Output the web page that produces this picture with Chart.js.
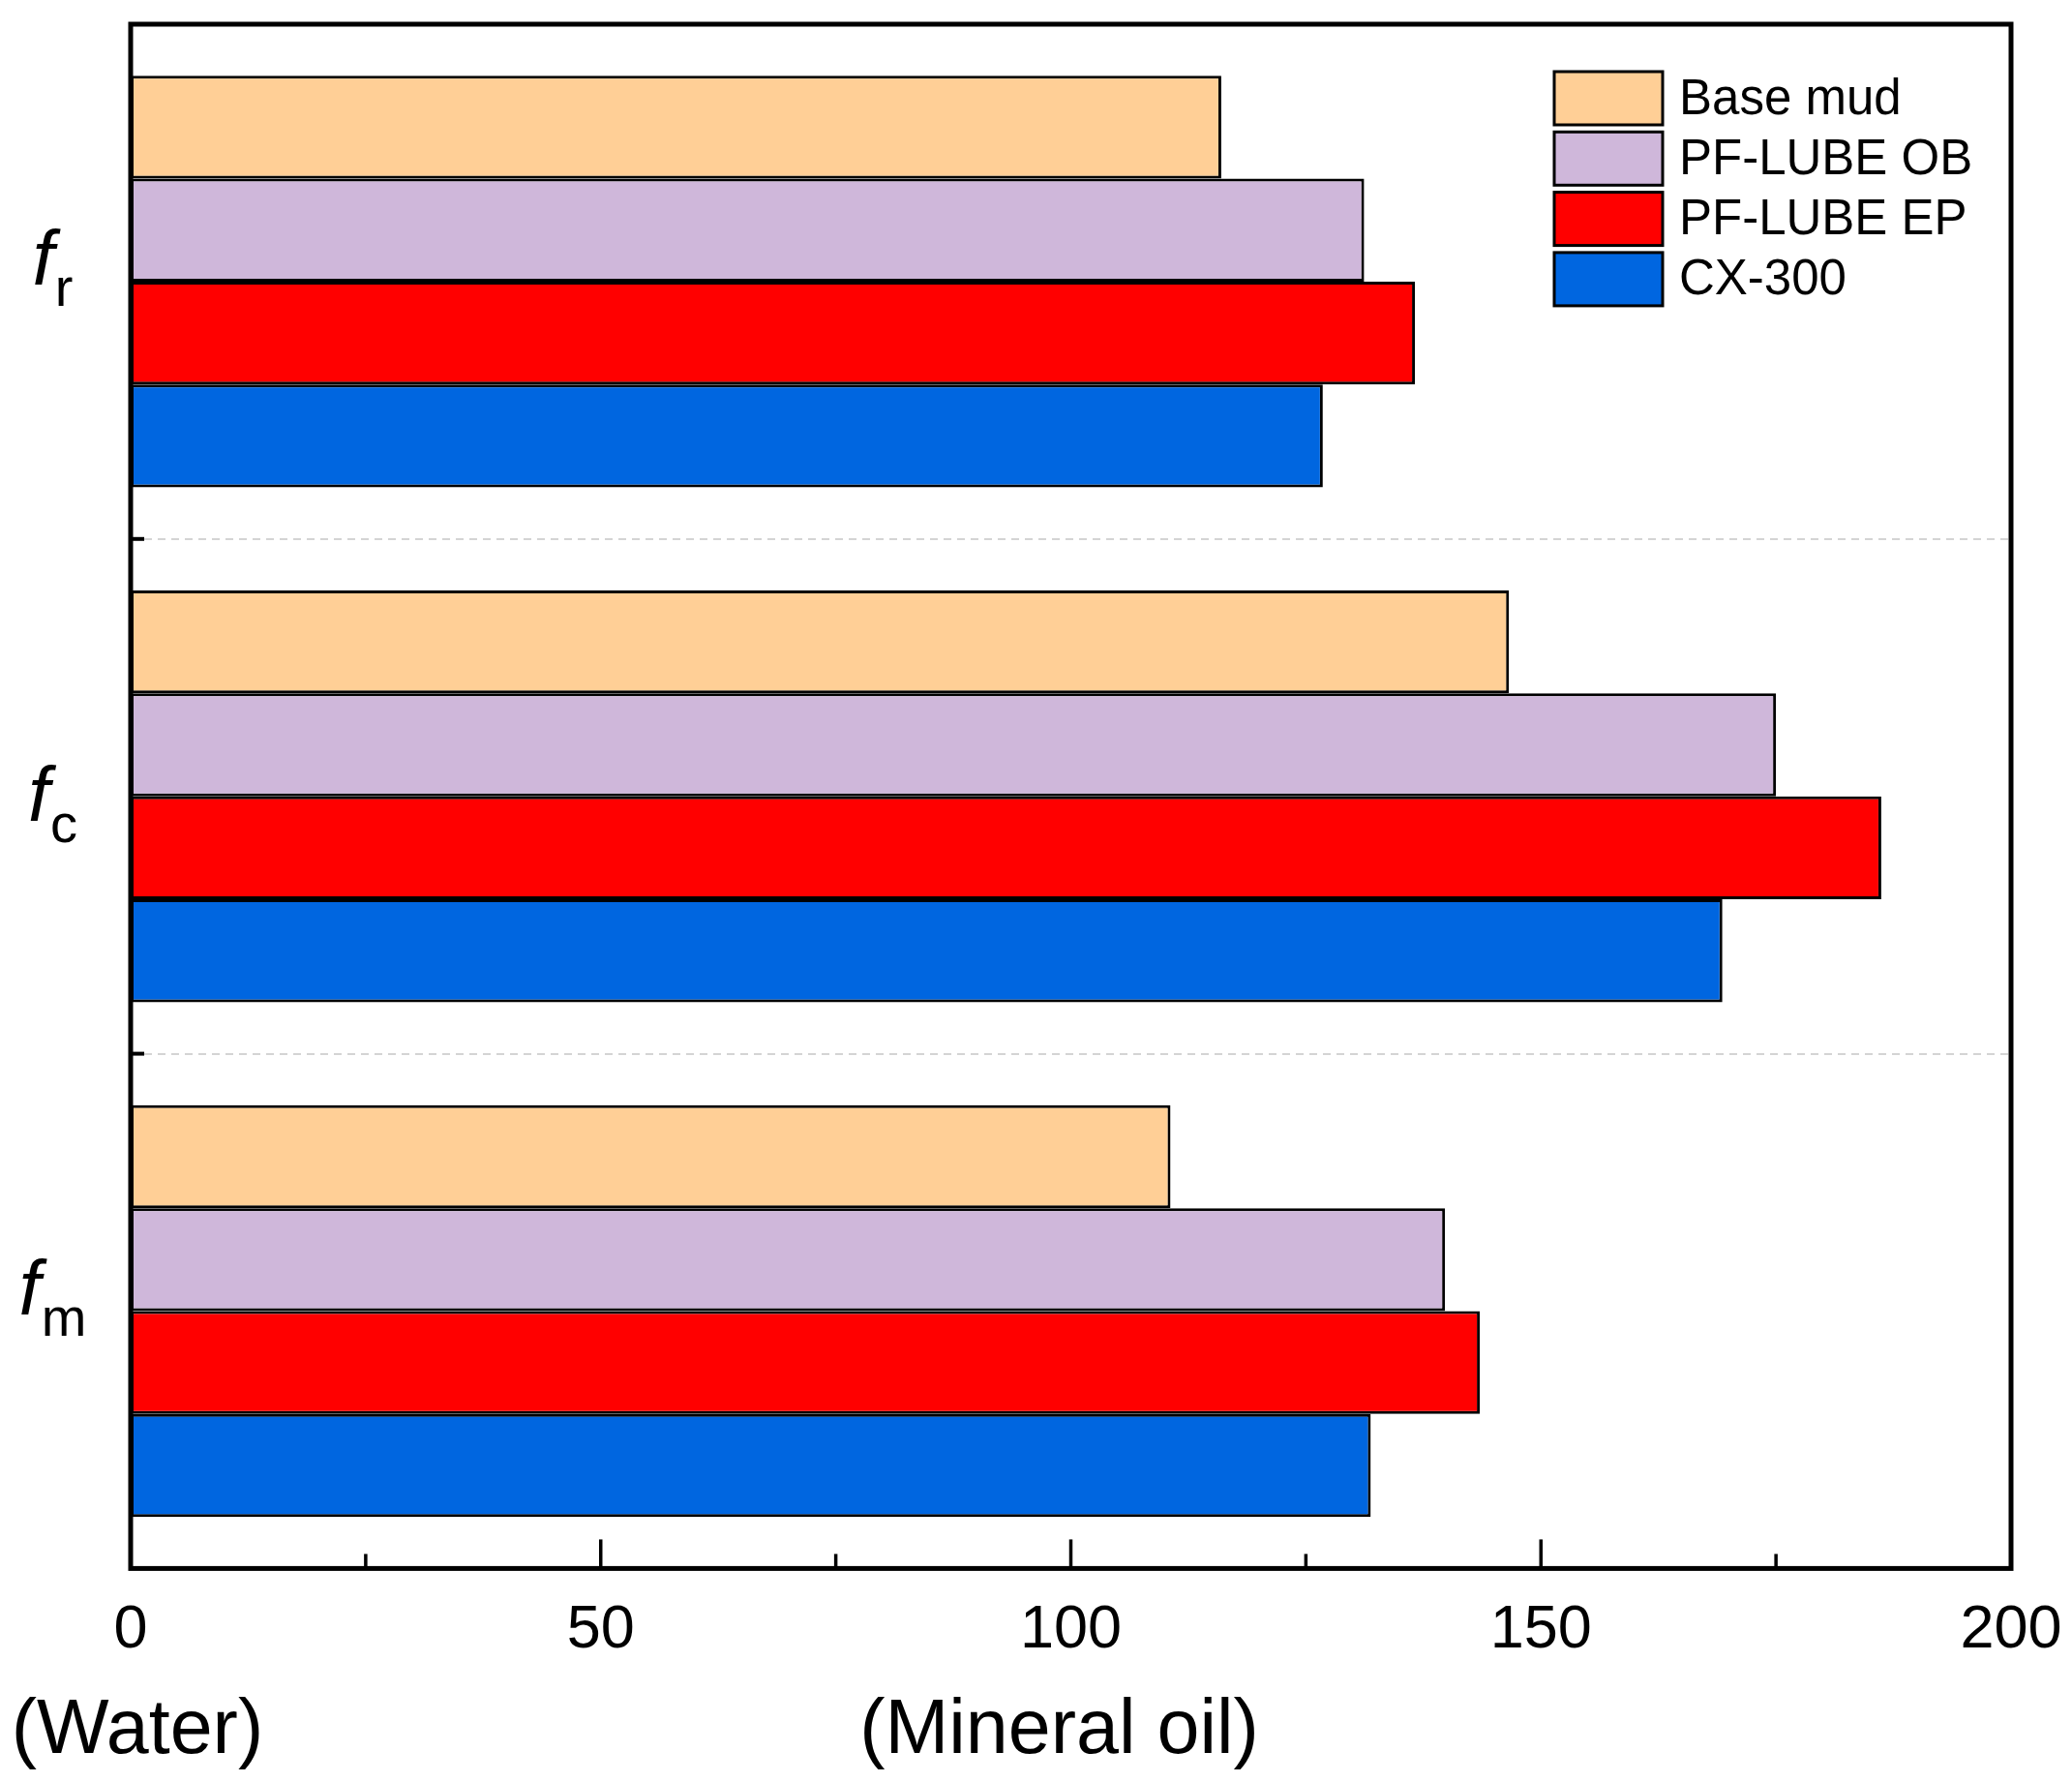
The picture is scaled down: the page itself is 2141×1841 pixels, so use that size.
<!DOCTYPE html>
<html>
<head>
<meta charset="utf-8">
<script src="https://cdn.jsdelivr.net/npm/chart.js@4.4.1/dist/chart.umd.min.js"></script>
<style>
  html, body { margin: 0; padding: 0; background: #fff; overflow: hidden; }
  #wrap { width: 2141px; height: 1841px; position: relative; }
  #wrap canvas { display: block; }
</style>
</head>
<body>
<div id="wrap"><canvas id="chart"></canvas></div>
<script>
// categories: main letter + subscript, split on "_"
const categories = ["f_r", "f_c", "f_m"];
const seriesNames = ["Base mud", "PF-LUBE OB", "PF-LUBE EP", "CX-300"];
const baseMud = [116.0, 146.6, 110.6];
const lubeOB  = [131.2, 175.0, 139.8];
const lubeEP  = [136.6, 186.2, 143.5];
const cx300   = [126.8, 169.3, 131.9];
const majorTicks = [0, 50, 100, 150, 200];
const minorTicks = [25, 75, 125, 175];
const bottomNotes = ["(Water)", "(Mineral oil)"];

const colors = ["#FFCF96", "#CFB7DA", "#FF0000", "#0066E0"];
const FONT = '"Liberation Sans", Arial, sans-serif';

Chart.defaults.font.family = FONT;
Chart.defaults.color = "#000";

// frame, inward ticks, subscript labels, inner legend, bottom notes
const decor = {
  id: "decor",
  afterDatasetsDraw(chart) {
    const { ctx, chartArea: a, scales: { x, y } } = chart;
    ctx.save();
    ctx.strokeStyle = "#000";
    ctx.fillStyle = "#000";

    // ticks along the bottom, pointing up
    ctx.lineWidth = 3.5;
    const tick = (v, len) => {
      const px = x.getPixelForValue(v);
      ctx.beginPath();
      ctx.moveTo(px, a.bottom);
      ctx.lineTo(px, a.bottom - len);
      ctx.stroke();
    };
    majorTicks.forEach(v => tick(v, 30));
    minorTicks.forEach(v => tick(v, 15));

    // ticks on the left between categories
    ctx.lineWidth = 4;
    for (let i = 1; i < categories.length; i++) {
      const py = (y.getPixelForValue(i - 1) + y.getPixelForValue(i)) / 2;
      ctx.beginPath();
      ctx.moveTo(a.left, py);
      ctx.lineTo(a.left + 14, py);
      ctx.stroke();
    }

    // frame
    ctx.lineWidth = 5;
    ctx.strokeRect(a.left, a.top, a.right - a.left, a.bottom - a.top);

    // y labels: italic f with upright subscript
    const nudge = [0, 22, 0];
    ctx.textAlign = "left";
    ctx.textBaseline = "alphabetic";
    categories.forEach((c, i) => {
      const [main, sub] = c.split("_");
      const cy = y.getPixelForValue(i) + nudge[i];
      ctx.font = "italic 80px " + FONT;
      const wm = ctx.measureText(main).width;
      ctx.font = "56px " + FONT;
      const ws = ctx.measureText(sub).width;
      const x0 = 54 - (wm + ws) / 2;
      ctx.font = "italic 80px " + FONT;
      ctx.fillText(main, x0, cy + 3);
      ctx.font = "56px " + FONT;
      ctx.fillText(sub, x0 + wm + 1, cy + 25);
    });

    // legend inside plot, top right
    const bx = a.right - 472, by = a.top + 49, bw = 112, bh = 55, step = 62.3;
    ctx.font = "51px " + FONT;
    ctx.textBaseline = "middle";
    chart.data.datasets.forEach((ds, i) => {
      const top = by + i * step;
      ctx.fillStyle = ds.backgroundColor;
      ctx.fillRect(bx, top, bw, bh);
      ctx.lineWidth = 3;
      ctx.strokeRect(bx, top, bw, bh);
      ctx.fillStyle = "#000";
      ctx.fillText(ds.label, bx + bw + 17, top + bh / 2 + 2);
    });

    // notes under the x axis
    ctx.font = "79px " + FONT;
    ctx.textAlign = "center";
    ctx.textBaseline = "alphabetic";
    ctx.fillText(bottomNotes[0], x.getPixelForValue(0) + 7, 1811);
    ctx.fillText(bottomNotes[1], x.getPixelForValue(100) - 12, 1811);
    ctx.restore();
  }
};

const seriesValues = [baseMud, lubeOB, lubeEP, cx300];

new Chart(document.getElementById("chart"), {
  type: "bar",
  data: {
    labels: categories,
    datasets: seriesNames.map((name, i) => ({
      label: name,
      data: seriesValues[i],
      backgroundColor: colors[i],
      borderColor: "#000",
      borderWidth: 3,
      borderSkipped: false,
      categoryPercentage: 0.8,
      barPercentage: 1.0,
    })),
  },
  options: {
    indexAxis: "y",
    responsive: true,
    maintainAspectRatio: false,
    animation: false,
    devicePixelRatio: 1,
    layout: { padding: { left: 135, right: 63, top: 25, bottom: 93 } },
    plugins: {
      legend: { display: false },
      tooltip: { enabled: false },
    },
    scales: {
      x: {
        type: "linear",
        min: 0,
        max: 200,
        // the last label may hang into the right margin
        afterFit(scale) {
          scale.paddingLeft = 0;
          scale.paddingRight = 0;
        },
        ticks: {
          stepSize: 50,
          padding: 26,
          font: { size: 63 },
          color: "#000",
        },
        grid: { display: false, drawTicks: false },
        border: { display: false },
      },
      y: {
        type: "category",
        ticks: { display: false },
        grid: {
          offset: true,
          color: "#d4d4d4",
          lineWidth: 2,
          drawTicks: false,
        },
        border: { display: false, dash: [8, 6] },
      },
    },
  },
  plugins: [decor],
});
</script>
</body>
</html>
